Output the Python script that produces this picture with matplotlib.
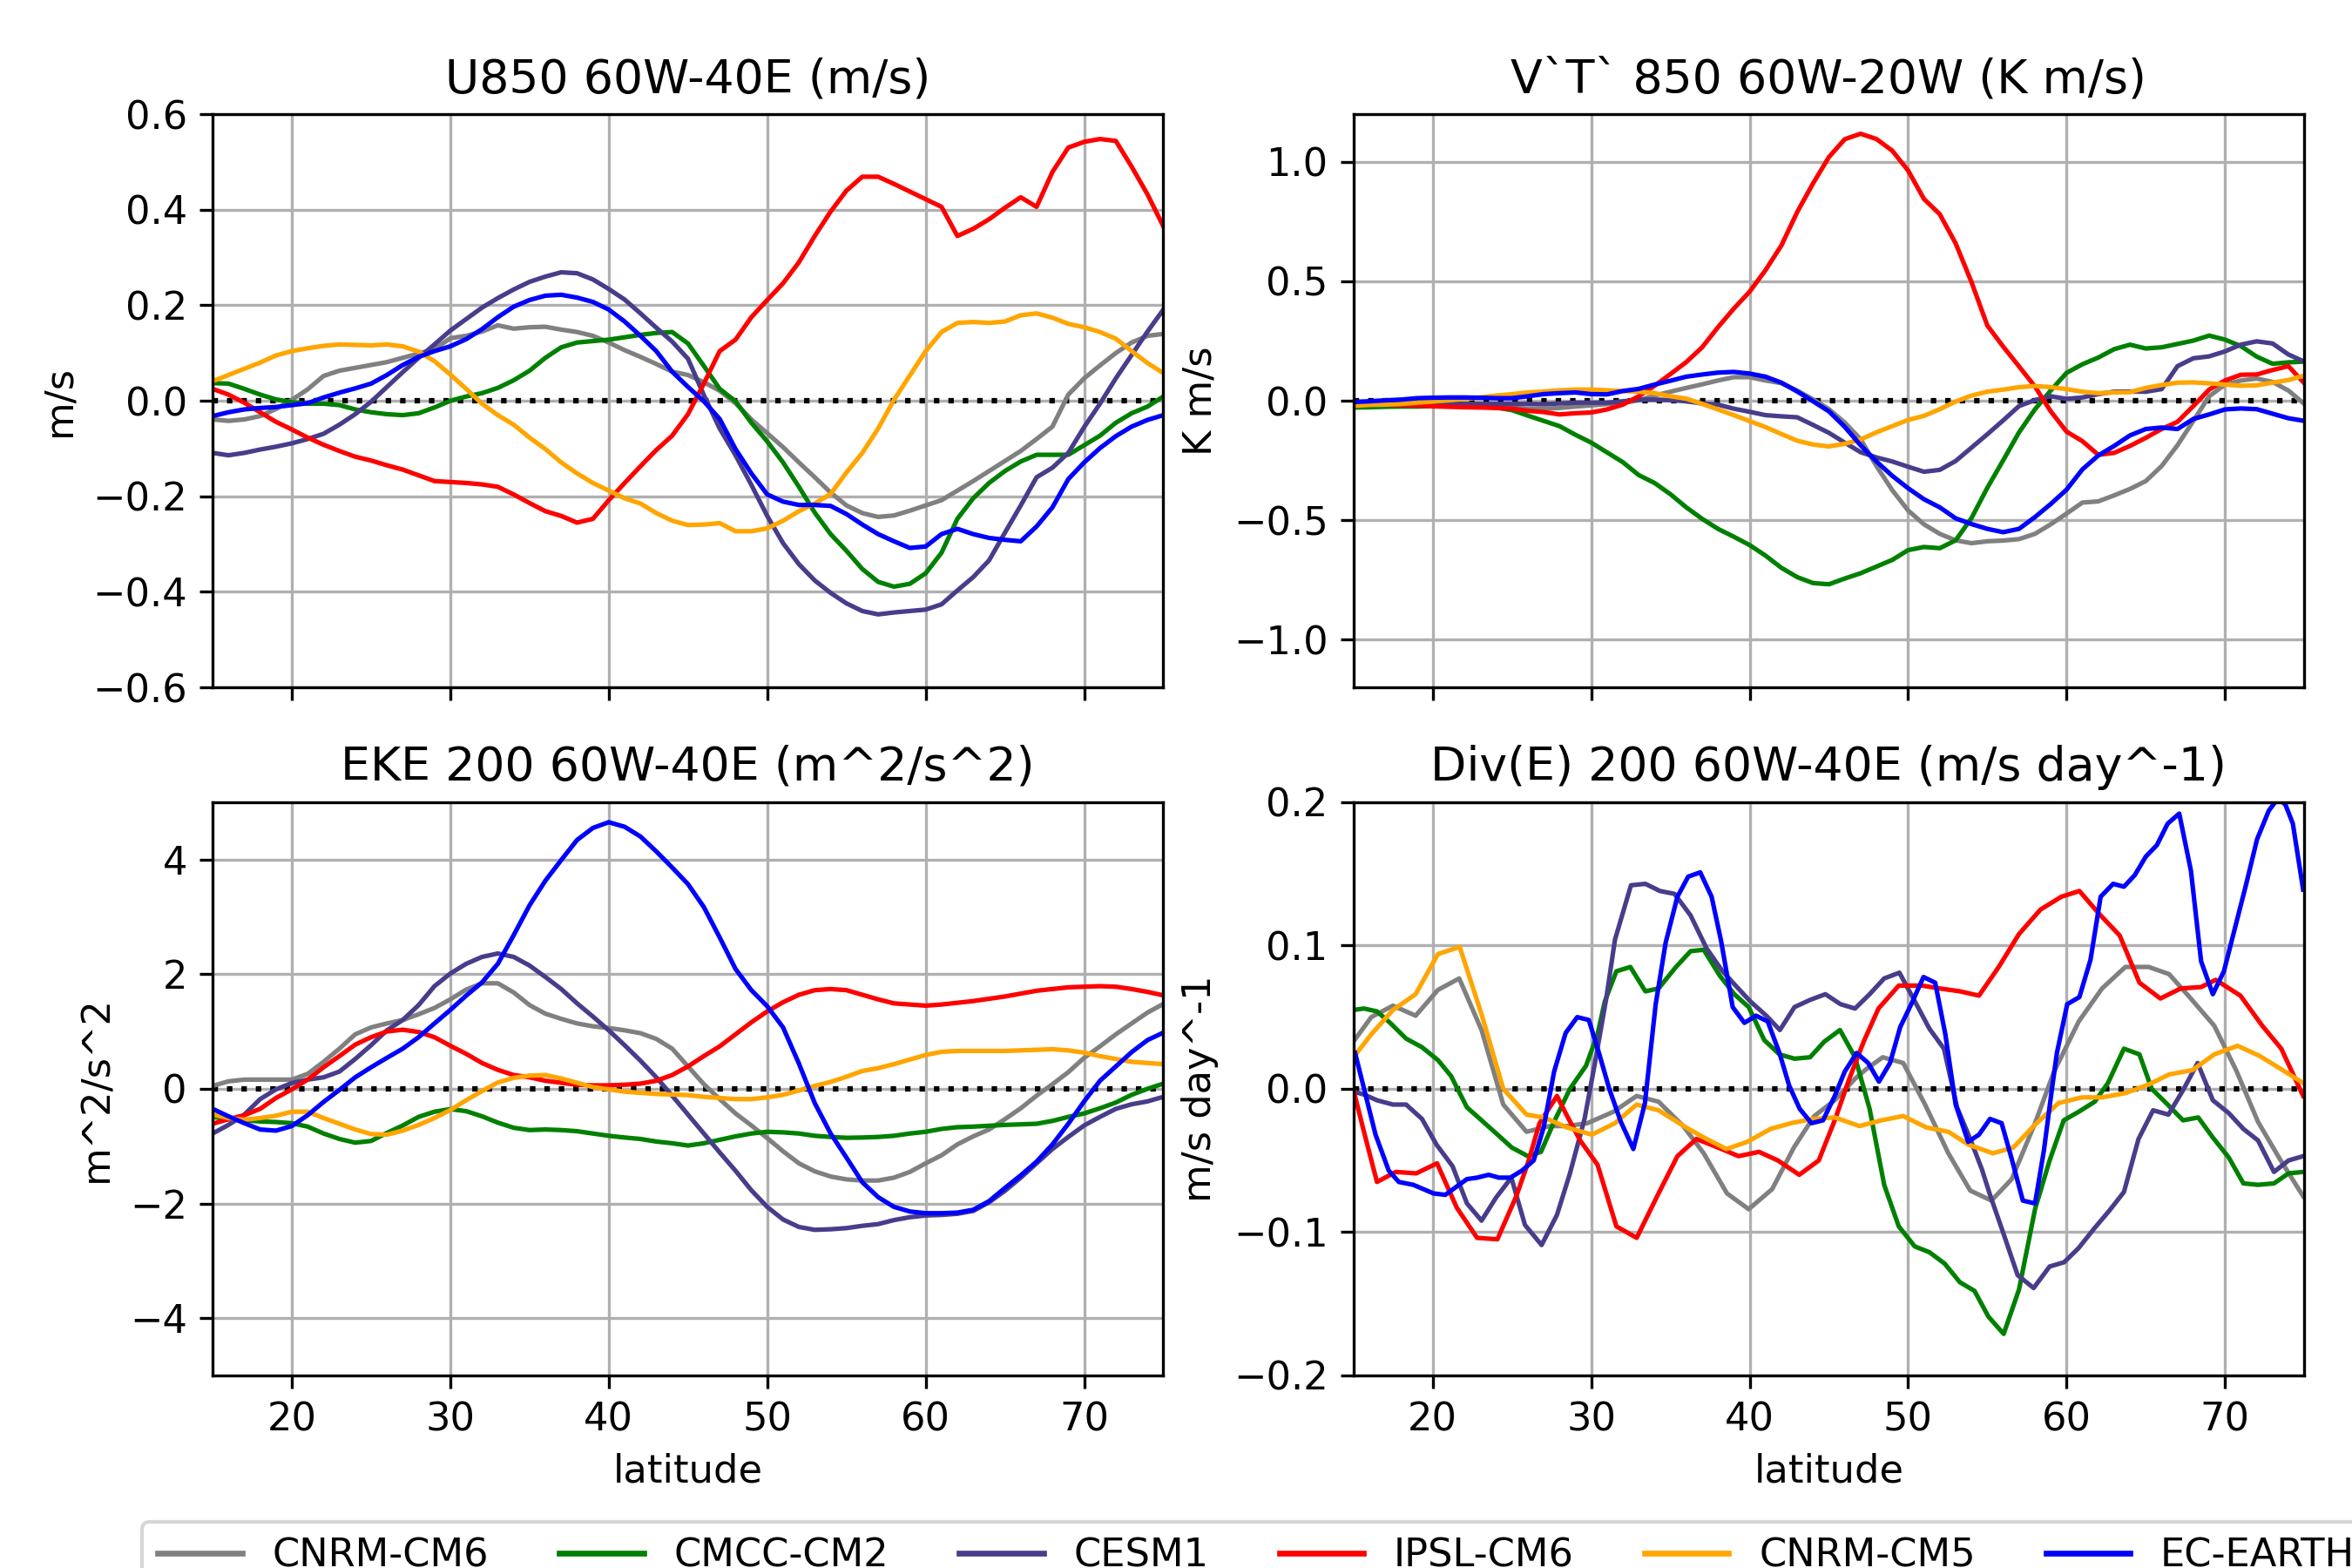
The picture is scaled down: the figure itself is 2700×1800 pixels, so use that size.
import numpy as np
import matplotlib
matplotlib.use("Agg")
import matplotlib.pyplot as plt

plt.rcParams["font.size"] = 10.75

lat = np.arange(15, 76)

models = ["CNRM-CM6", "CMCC-CM2", "CESM1", "IPSL-CM6", "CNRM-CM5", "EC-EARTH"]
colors = ["grey", "green", "darkslateblue", "red", "orange", "blue"]

# ---- U850 60W-40E (m/s), 15N..75N every degree
u850_cnrm6 = [-0.039, -0.042, -0.039, -0.032, -0.017, 0.002, 0.024, 0.052, 0.063, 0.069,
              0.075, 0.081, 0.090, 0.099, 0.108, 0.131, 0.136, 0.145, 0.158, 0.151,
              0.154, 0.155, 0.149, 0.144, 0.136, 0.122, 0.106, 0.092, 0.077, 0.061,
              0.054, 0.039, 0.021, -0.005, -0.039, -0.068, -0.097, -0.129, -0.160, -0.192,
              -0.219, -0.235, -0.243, -0.240, -0.230, -0.219, -0.208, -0.188, -0.168, -0.147,
              -0.126, -0.105, -0.080, -0.054, 0.013, 0.047, 0.074, 0.100, 0.122, 0.136,
              0.140]
u850_cmcc = [0.037, 0.036, 0.025, 0.013, 0.003, -0.003, -0.006, -0.006, -0.009, -0.018,
             -0.024, -0.028, -0.030, -0.026, -0.014, 0.000, 0.009, 0.016, 0.027, 0.043,
             0.063, 0.090, 0.112, 0.122, 0.125, 0.128, 0.133, 0.138, 0.142, 0.144,
             0.120, 0.073, 0.025, -0.001, -0.046, -0.085, -0.129, -0.180, -0.234, -0.279,
             -0.314, -0.352, -0.379, -0.389, -0.383, -0.361, -0.318, -0.247, -0.204, -0.172,
             -0.147, -0.127, -0.113, -0.113, -0.113, -0.093, -0.073, -0.046, -0.026, -0.012,
             0.009]
u850_cesm = [-0.109, -0.114, -0.109, -0.102, -0.096, -0.089, -0.080, -0.069, -0.050, -0.028,
             -0.002, 0.029, 0.060, 0.090, 0.118, 0.147, 0.171, 0.195, 0.215, 0.233,
             0.249, 0.260, 0.269, 0.267, 0.254, 0.234, 0.212, 0.183, 0.153, 0.124,
             0.088, 0.012, -0.058, -0.114, -0.176, -0.241, -0.298, -0.342, -0.376, -0.402,
             -0.424, -0.440, -0.447, -0.443, -0.440, -0.437, -0.426, -0.397, -0.369, -0.334,
             -0.276, -0.219, -0.160, -0.140, -0.109, -0.055, -0.006, 0.047, 0.096, 0.145,
             0.191]
u850_ipsl = [0.025, 0.013, -0.004, -0.024, -0.044, -0.060, -0.077, -0.092, -0.105, -0.117,
             -0.125, -0.135, -0.144, -0.156, -0.168, -0.170, -0.172, -0.175, -0.180, -0.196,
             -0.214, -0.231, -0.241, -0.255, -0.247, -0.208, -0.172, -0.137, -0.103, -0.073,
             -0.028, 0.036, 0.104, 0.128, 0.175, 0.211, 0.246, 0.290, 0.345, 0.396,
             0.440, 0.469, 0.469, 0.454, 0.438, 0.422, 0.406, 0.345, 0.360, 0.380,
             0.404, 0.426, 0.406, 0.479, 0.530, 0.542, 0.548, 0.544, 0.490, 0.432,
             0.365]
u850_cnrm5 = [0.041, 0.054, 0.067, 0.080, 0.095, 0.104, 0.110, 0.115, 0.118, 0.117,
              0.116, 0.118, 0.114, 0.103, 0.083, 0.055, 0.025, -0.006, -0.030, -0.050,
              -0.077, -0.101, -0.129, -0.152, -0.172, -0.188, -0.204, -0.215, -0.235, -0.251,
              -0.260, -0.259, -0.256, -0.273, -0.273, -0.267, -0.251, -0.231, -0.215, -0.195,
              -0.150, -0.109, -0.058, 0.002, 0.053, 0.104, 0.144, 0.163, 0.165, 0.163,
              0.166, 0.179, 0.183, 0.174, 0.161, 0.154, 0.144, 0.130, 0.104, 0.079,
              0.058]
u850_ecearth = [-0.032, -0.024, -0.018, -0.015, -0.013, -0.009, -0.005, 0.007, 0.017, 0.026,
                0.036, 0.054, 0.075, 0.092, 0.104, 0.114, 0.129, 0.150, 0.175, 0.197,
                0.211, 0.220, 0.222, 0.216, 0.207, 0.191, 0.166, 0.136, 0.104, 0.061,
                0.029, -0.001, -0.038, -0.101, -0.152, -0.196, -0.211, -0.218, -0.218, -0.220,
                -0.237, -0.259, -0.279, -0.294, -0.308, -0.305, -0.279, -0.268, -0.279, -0.287,
                -0.291, -0.294, -0.263, -0.223, -0.164, -0.129, -0.099, -0.074, -0.054, -0.040,
                -0.030]

# ---- V'T' 850 60W-20W (K m/s)
vt850_cnrm6 = [-0.020, -0.020, -0.020, -0.020, -0.020, -0.021, -0.021, -0.022, -0.024, -0.026,
               -0.030, -0.033, -0.033, -0.030, -0.024, -0.019, -0.014, -0.008, 0.002, 0.022,
               0.038, 0.054, 0.069, 0.085, 0.099, 0.099, 0.085, 0.074, 0.043, 0.006,
               -0.035, -0.091, -0.161, -0.273, -0.374, -0.459, -0.517, -0.557, -0.584, -0.596,
               -0.588, -0.585, -0.579, -0.557, -0.517, -0.472, -0.426, -0.421, -0.396, -0.369,
               -0.336, -0.273, -0.186, -0.084, 0.019, 0.068, 0.085, 0.093, 0.079, 0.043,
               -0.013]
vt850_cmcc = [-0.028, -0.027, -0.025, -0.024, -0.024, -0.022, -0.021, -0.021, -0.024, -0.028,
              -0.039, -0.062, -0.084, -0.106, -0.142, -0.175, -0.216, -0.257, -0.311, -0.344,
              -0.391, -0.446, -0.494, -0.536, -0.569, -0.604, -0.648, -0.699, -0.738, -0.763,
              -0.768, -0.744, -0.722, -0.694, -0.666, -0.625, -0.612, -0.617, -0.584, -0.491,
              -0.364, -0.249, -0.132, -0.036, 0.043, 0.117, 0.153, 0.181, 0.216, 0.235,
              0.219, 0.224, 0.238, 0.252, 0.273, 0.256, 0.229, 0.185, 0.155, 0.161,
              0.164]
vt850_cesm = [-0.013, -0.013, -0.013, -0.013, -0.013, -0.013, -0.013, -0.013, -0.013, -0.013,
              -0.013, -0.013, -0.014, -0.011, -0.008, -0.008, -0.008, -0.002, 0.005, 0.005,
              0.003, -0.002, -0.011, -0.016, -0.033, -0.046, -0.060, -0.065, -0.069, -0.101,
              -0.134, -0.175, -0.215, -0.237, -0.254, -0.276, -0.297, -0.289, -0.252, -0.196,
              -0.140, -0.082, -0.022, 0.003, 0.019, 0.008, 0.014, 0.028, 0.038, 0.039,
              0.038, 0.049, 0.145, 0.178, 0.186, 0.207, 0.235, 0.249, 0.240, 0.194,
              0.164]
vt850_ipsl = [-0.013, -0.014, -0.016, -0.018, -0.020, -0.023, -0.025, -0.027, -0.028, -0.030,
              -0.033, -0.042, -0.047, -0.057, -0.052, -0.049, -0.036, -0.016, 0.019, 0.063,
              0.112, 0.162, 0.224, 0.308, 0.386, 0.457, 0.547, 0.650, 0.790, 0.910,
              1.020, 1.095, 1.118, 1.096, 1.047, 0.964, 0.845, 0.781, 0.659, 0.497,
              0.315, 0.227, 0.144, 0.060, -0.044, -0.129, -0.169, -0.226, -0.218, -0.189,
              -0.155, -0.118, -0.088, -0.022, 0.047, 0.085, 0.109, 0.110, 0.129, 0.145,
              0.074]
vt850_cnrm5 = [-0.021, -0.017, -0.016, -0.013, -0.008, -0.003, 0.002, 0.008, 0.014, 0.022,
               0.028, 0.035, 0.039, 0.044, 0.047, 0.047, 0.044, 0.041, 0.038, 0.032,
               0.019, 0.009, -0.013, -0.036, -0.060, -0.085, -0.110, -0.139, -0.167, -0.183,
               -0.191, -0.180, -0.162, -0.132, -0.106, -0.080, -0.063, -0.035, -0.003, 0.022,
               0.038, 0.047, 0.057, 0.062, 0.057, 0.049, 0.038, 0.032, 0.035, 0.036,
               0.054, 0.066, 0.076, 0.077, 0.073, 0.068, 0.063, 0.065, 0.076, 0.087,
               0.106]
vt850_ecearth = [-0.005, -0.002, 0.002, 0.005, 0.011, 0.013, 0.014, 0.014, 0.013, 0.011,
                 0.011, 0.019, 0.028, 0.032, 0.035, 0.028, 0.027, 0.041, 0.050, 0.068,
                 0.084, 0.101, 0.110, 0.118, 0.121, 0.114, 0.101, 0.076, 0.039, -0.002,
                 -0.044, -0.109, -0.186, -0.254, -0.314, -0.366, -0.412, -0.446, -0.492, -0.516,
                 -0.536, -0.550, -0.536, -0.487, -0.432, -0.372, -0.287, -0.229, -0.189, -0.145,
                 -0.118, -0.112, -0.118, -0.076, -0.057, -0.036, -0.032, -0.035, -0.054, -0.073,
                 -0.084]

# ---- EKE 200 60W-40E (m^2/s^2)
eke200_cnrm6 = [0.05, 0.13, 0.16, 0.16, 0.16, 0.16, 0.26, 0.47, 0.70, 0.95,
                1.07, 1.14, 1.20, 1.30, 1.41, 1.56, 1.73, 1.84, 1.84, 1.68,
                1.46, 1.31, 1.22, 1.14, 1.09, 1.06, 1.02, 0.97, 0.87, 0.70,
                0.39, 0.08, -0.18, -0.43, -0.64, -0.86, -1.09, -1.30, -1.44, -1.53,
                -1.58, -1.60, -1.60, -1.55, -1.45, -1.30, -1.16, -0.97, -0.83, -0.71,
                -0.53, -0.34, -0.12, 0.08, 0.29, 0.54, 0.74, 0.95, 1.14, 1.33,
                1.48]
eke200_cmcc = [-0.49, -0.53, -0.55, -0.57, -0.58, -0.60, -0.66, -0.78, -0.875, -0.94,
               -0.91, -0.77, -0.64, -0.49, -0.40, -0.355, -0.39, -0.48, -0.59, -0.68,
               -0.72, -0.71, -0.72, -0.74, -0.78, -0.82, -0.85, -0.875, -0.92, -0.95,
               -0.99, -0.95, -0.89, -0.83, -0.78, -0.75, -0.76, -0.78, -0.82, -0.84,
               -0.855, -0.85, -0.84, -0.82, -0.78, -0.75, -0.70, -0.67, -0.66, -0.645,
               -0.63, -0.62, -0.61, -0.56, -0.49, -0.43, -0.34, -0.24, -0.105, 0.0,
               0.09]
eke200_cesm = [-0.78, -0.63, -0.45, -0.18, -0.01, 0.10, 0.16, 0.20, 0.30, 0.52,
               0.76, 1.02, 1.20, 1.46, 1.79, 2.01, 2.18, 2.30, 2.36, 2.30,
               2.15, 1.95, 1.74, 1.49, 1.26, 1.02, 0.76, 0.49, 0.20, -0.12,
               -0.45, -0.78, -1.11, -1.43, -1.77, -2.06, -2.28, -2.41, -2.46, -2.45,
               -2.43, -2.39, -2.36, -2.29, -2.24, -2.21, -2.20, -2.18, -2.13, -1.98,
               -1.78, -1.55, -1.30, -1.05, -0.84, -0.64, -0.49, -0.35, -0.27, -0.22,
               -0.14]
eke200_ipsl = [-0.61, -0.53, -0.46, -0.35, -0.16, -0.01, 0.16, 0.375, 0.57, 0.77,
               0.90, 1.00, 1.03, 0.99, 0.90, 0.75, 0.61, 0.45, 0.33, 0.24,
               0.20, 0.14, 0.105, 0.07, 0.06, 0.06, 0.07, 0.09, 0.14, 0.24,
               0.39, 0.57, 0.74, 0.95, 1.16, 1.35, 1.51, 1.64, 1.72, 1.74,
               1.72, 1.64, 1.56, 1.49, 1.47, 1.45, 1.47, 1.50, 1.53, 1.57,
               1.61, 1.66, 1.71, 1.74, 1.77, 1.78, 1.79, 1.78, 1.74, 1.69,
               1.63]
eke200_cnrm5 = [-0.45, -0.51, -0.54, -0.51, -0.47, -0.40, -0.40, -0.51, -0.61, -0.71,
                -0.79, -0.80, -0.73, -0.63, -0.51, -0.37, -0.20, -0.04, 0.11, 0.19,
                0.23, 0.24, 0.18, 0.105, 0.03, -0.01, -0.05, -0.07, -0.09, -0.10,
                -0.11, -0.14, -0.16, -0.18, -0.18, -0.15, -0.105, -0.03, 0.05, 0.12,
                0.21, 0.31, 0.36, 0.43, 0.51, 0.59, 0.645, 0.66, 0.66, 0.66,
                0.66, 0.67, 0.68, 0.69, 0.67, 0.63, 0.57, 0.52, 0.47, 0.45,
                0.43]
eke200_ecearth = [-0.35, -0.48, -0.60, -0.71, -0.73, -0.65, -0.46, -0.23, -0.02, 0.20,
                  0.375, 0.54, 0.70, 0.90, 1.14, 1.375, 1.625, 1.855, 2.18, 2.68,
                  3.20, 3.63, 3.99, 4.34, 4.55, 4.65, 4.57, 4.40, 4.14, 3.86,
                  3.57, 3.17, 2.64, 2.09, 1.72, 1.44, 1.07, 0.44, -0.25, -0.78,
                  -1.20, -1.63, -1.89, -2.06, -2.14, -2.17, -2.17, -2.16, -2.11, -1.96,
                  -1.73, -1.51, -1.27, -0.97, -0.61, -0.22, 0.14, 0.39, 0.64, 0.85,
                  0.98]

# ---- Div(E) 200 60W-40E (m/s day^-1), finer grid -> (lat, value) pairs
dive_cnrm6 = [(15.0, 0.033), (16.12, 0.050), (17.49, 0.058), (18.92, 0.051), (20.33, 0.069),
              (21.67, 0.077), (23.08, 0.041), (24.45, -0.011), (25.92, -0.030), (27.38, -0.026),
              (28.48, -0.026), (29.76, -0.024), (31.41, -0.016), (32.87, -0.005), (34.25, -0.009),
              (35.81, -0.026), (37.1, -0.045), (38.57, -0.073), (39.94, -0.084), (41.42, -0.070),
              (42.79, -0.041), (44.08, -0.019), (45.37, -0.008), (46.65, 0.007), (47.39, 0.014),
              (48.4, 0.022), (49.69, 0.018), (51.07, -0.011), (52.54, -0.045), (53.92, -0.071),
              (55.26, -0.078), (56.54, -0.063), (58.01, -0.024), (59.21, 0.012), (60.77, 0.047),
              (62.24, 0.070), (63.71, 0.085), (65.18, 0.085), (66.47, 0.080), (67.76, 0.064),
              (69.32, 0.044), (70.7, 0.013), (72.08, -0.023), (73.46, -0.049), (74.93, -0.075)]
dive_cmcc = [(15.0, 0.055), (15.66, 0.056), (16.48, 0.054), (17.31, 0.046), (18.32, 0.035),
             (19.32, 0.029), (20.33, 0.020), (21.15, 0.009), (22.16, -0.013), (22.98, -0.021),
             (23.99, -0.031), (24.99, -0.041), (26.0, -0.047), (26.83, -0.044), (27.66, -0.023),
             (28.66, 0.000), (29.67, 0.016), (30.4, 0.038), (30.86, 0.061), (31.59, 0.082),
             (32.47, 0.085), (33.42, 0.068), (34.25, 0.070), (35.35, 0.085), (36.27, 0.096),
             (37.1, 0.097), (38.11, 0.079), (39.03, 0.066), (39.94, 0.057), (40.92, 0.034),
             (41.88, 0.024), (42.83, 0.021), (43.81, 0.022), (44.72, 0.033), (45.7, 0.041),
             (46.65, 0.022), (47.57, -0.014), (48.49, -0.067), (49.41, -0.096), (50.42, -0.110),
             (51.34, -0.114), (52.31, -0.122), (53.27, -0.135), (54.19, -0.141), (55.07, -0.159),
             (56.03, -0.171), (57.0, -0.140), (58.01, -0.084), (58.93, -0.050), (59.82, -0.022),
             (60.77, -0.016), (61.78, -0.009), (62.61, 0.004), (63.62, 0.028), (64.6, 0.024),
             (65.37, 0.000), (66.38, -0.011), (67.35, -0.022), (68.31, -0.020), (69.23, -0.034),
             (70.24, -0.048), (71.16, -0.066), (72.08, -0.067), (73.09, -0.066), (74.01, -0.059),
             (74.93, -0.058)]
dive_cesm = [(15.0, -0.002), (15.66, -0.004), (16.48, -0.008), (17.49, -0.011), (18.32, -0.011),
             (19.32, -0.021), (20.24, -0.039), (21.25, -0.054), (22.16, -0.080), (23.08, -0.092),
             (23.99, -0.076), (24.96, -0.062), (25.82, -0.095), (26.87, -0.109), (27.84, -0.088),
             (28.66, -0.059), (29.58, -0.021), (30.22, 0.017), (30.95, 0.063), (31.5, 0.104),
             (32.51, 0.142), (33.42, 0.143), (34.34, 0.138), (35.26, 0.136), (36.27, 0.121),
             (37.28, 0.098), (38.29, 0.082), (39.03, 0.073), (40.04, 0.061), (41.05, 0.051),
             (41.91, 0.041), (42.83, 0.057), (43.81, 0.062), (44.78, 0.066), (45.74, 0.059),
             (46.65, 0.056), (47.57, 0.066), (48.49, 0.077), (49.45, 0.081), (50.33, 0.063),
             (51.34, 0.042), (52.26, 0.028), (53.09, -0.013), (53.92, -0.035), (54.65, -0.056),
             (55.17, -0.074), (56.08, -0.103), (56.91, -0.130), (57.92, -0.139), (58.93, -0.124),
             (59.85, -0.121), (60.77, -0.111), (61.78, -0.097), (62.7, -0.085), (63.62, -0.072),
             (64.54, -0.035), (65.46, -0.015), (66.43, -0.018), (67.35, -0.001), (68.27, 0.018),
             (69.23, -0.008), (70.24, -0.017), (71.16, -0.028), (72.08, -0.036), (73.09, -0.058),
             (74.01, -0.050), (74.93, -0.047)]
dive_ipsl = [(15.0, -0.001), (15.66, -0.030), (16.48, -0.065), (17.67, -0.058), (18.96, -0.059),
             (20.27, -0.052), (21.52, -0.083), (22.8, -0.104), (24.08, -0.105), (25.27, -0.075),
             (26.0, -0.052), (26.74, -0.024), (27.84, -0.005), (28.48, -0.019), (29.3, -0.036),
             (30.4, -0.053), (31.59, -0.096), (32.87, -0.104), (34.16, -0.075), (35.44, -0.047),
             (36.64, -0.035), (38.01, -0.041), (39.3, -0.047), (40.59, -0.044), (41.78, -0.050),
             (43.13, -0.060), (44.36, -0.050), (45.37, -0.022), (46.29, 0.007), (47.2, 0.033),
             (48.13, 0.056), (49.41, 0.072), (50.88, 0.072), (51.99, 0.070), (53.27, 0.068),
             (54.47, 0.065), (55.72, 0.085), (57.0, 0.108), (58.35, 0.125), (59.67, 0.134),
             (60.81, 0.138), (62.06, 0.122), (63.35, 0.107), (64.6, 0.074), (65.92, 0.063),
             (67.21, 0.070), (68.49, 0.071), (69.41, 0.076), (70.97, 0.065), (72.35, 0.044),
             (73.55, 0.028), (74.93, -0.005)]
dive_cnrm5 = [(15.0, 0.022), (16.12, 0.038), (17.49, 0.055), (18.92, 0.066), (20.33, 0.094),
              (21.7, 0.099), (23.08, 0.052), (24.45, 0.000), (25.92, -0.018), (27.01, -0.020),
              (28.48, -0.027), (30.04, -0.032), (31.5, -0.024), (32.87, -0.011), (34.25, -0.015),
              (35.99, -0.027), (37.28, -0.035), (38.53, -0.042), (39.85, -0.037), (41.32, -0.028),
              (42.61, -0.024), (43.99, -0.021), (45.37, -0.020), (46.93, -0.026), (48.31, -0.022),
              (49.69, -0.019), (51.16, -0.027), (52.54, -0.030), (53.82, -0.039), (55.35, -0.045),
              (56.64, -0.041), (57.92, -0.026), (59.49, -0.010), (60.96, -0.006), (62.24, -0.006),
              (63.71, -0.003), (65.18, 0.003), (66.47, 0.010), (67.94, 0.013), (69.32, 0.024),
              (70.79, 0.030), (72.17, 0.023), (73.64, 0.013), (74.93, 0.004)]
dive_ecearth = [(15.1, 0.025), (16.39, -0.032), (17.22, -0.057), (17.86, -0.065), (18.77, -0.067),
                (20.05, -0.073), (20.79, -0.074), (22.16, -0.063), (22.8, -0.062), (23.53, -0.060),
                (24.18, -0.062), (24.9, -0.062), (25.64, -0.057), (26.37, -0.050), (27.0, -0.027),
                (27.66, 0.012), (28.39, 0.039), (29.12, 0.050), (29.85, 0.048), (30.49, 0.025),
                (31.14, 0.000), (31.87, -0.023), (32.66, -0.042), (33.39, -0.010), (34.07, 0.059),
                (34.7, 0.102), (35.44, 0.134), (36.12, 0.148), (36.88, 0.151), (37.6, 0.134),
                (38.2, 0.103), (38.93, 0.057), (39.67, 0.046), (40.4, 0.051), (41.14, 0.047),
                (41.88, 0.025), (42.5, 0.002), (43.16, -0.014), (43.9, -0.024), (44.63, -0.022),
                (45.37, -0.005), (46.0, 0.012), (46.75, 0.025), (47.48, 0.018), (48.16, 0.005),
                (48.86, 0.018), (49.5, 0.043), (50.24, 0.060), (50.97, 0.078), (51.71, 0.074),
                (52.35, 0.038), (53.0, -0.011), (53.79, -0.037), (54.47, -0.032), (55.17, -0.021),
                (55.9, -0.024), (56.54, -0.049), (57.24, -0.078), (58.01, -0.080), (58.57, -0.043),
                (59.03, -0.004), (59.39, 0.025), (60.04, 0.059), (60.81, 0.064), (61.51, 0.090),
                (62.15, 0.134), (62.94, 0.143), (63.62, 0.141), (64.3, 0.149), (65.0, 0.162),
                (65.7, 0.170), (66.38, 0.185), (67.11, 0.192), (67.85, 0.152), (68.49, 0.089),
                (69.23, 0.066), (69.93, 0.082), (70.6, 0.111), (71.34, 0.143), (72.02, 0.174),
                (72.76, 0.194), (73.36, 0.203), (73.82, 0.198), (74.28, 0.185), (74.93, 0.139)]


def plot_panel(ax, series, title, ylabel, ylim, yticks):
    ax.grid(True)
    # black dotted zero line, above the grey grid line but under the curves
    ax.axhline(0, color="black", linestyle=":", linewidth=1.5, zorder=1.9)
    lines = []
    for (x, y), name, c in zip(series, models, colors):
        ln, = ax.plot(x, y, color=c, linewidth=1.25, label=name)
        lines.append(ln)
    ax.set_title(title)
    ax.set_ylabel(ylabel)
    ax.set_xlim(15, 75)
    ax.set_ylim(*ylim)
    ax.set_yticks(yticks)
    ax.set_xticks([20, 30, 40, 50, 60, 70])
    return lines


fig, axes = plt.subplots(2, 2, sharex=True, figsize=(9, 6), dpi=300)
fig.subplots_adjust(left=0.0904, right=0.9797, top=0.9272, bottom=0.1228,
                    wspace=0.2, hspace=0.2)

u_series = [(lat, s) for s in [u850_cnrm6, u850_cmcc, u850_cesm, u850_ipsl, u850_cnrm5, u850_ecearth]]
vt_series = [(lat, s) for s in [vt850_cnrm6, vt850_cmcc, vt850_cesm, vt850_ipsl, vt850_cnrm5, vt850_ecearth]]
eke_series = [(lat, s) for s in [eke200_cnrm6, eke200_cmcc, eke200_cesm, eke200_ipsl, eke200_cnrm5, eke200_ecearth]]
div_series = [tuple(np.array(p).T) for p in [dive_cnrm6, dive_cmcc, dive_cesm, dive_ipsl, dive_cnrm5, dive_ecearth]]

handles = plot_panel(axes[0, 0], u_series, "U850 60W-40E (m/s)", "m/s",
                     (-0.6, 0.6), np.arange(-0.6, 0.61, 0.2))
plot_panel(axes[0, 1], vt_series, "V`T` 850 60W-20W (K m/s)", "K m/s",
           (-1.2, 1.2), [-1.0, -0.5, 0.0, 0.5, 1.0])
plot_panel(axes[1, 0], eke_series, "EKE 200 60W-40E (m^2/s^2)", "m^2/s^2",
           (-5, 5), [-4, -2, 0, 2, 4])
plot_panel(axes[1, 1], div_series, "Div(E) 200 60W-40E (m/s day^-1)", "m/s day^-1",
           (-0.2, 0.2), [-0.2, -0.1, 0.0, 0.1, 0.2])

axes[1, 0].set_xlabel("latitude")
axes[1, 1].set_xlabel("latitude")

leg = fig.legend(handles, models, loc="upper left", bbox_to_anchor=(0.0605, 0.0294),
                 ncol=6, borderaxespad=0, handlelength=2.15, handletextpad=0.78,
                 columnspacing=1.81)
for h in leg.get_lines():
    h.set_linewidth(1.6)

fig.savefig("out.png", dpi=300)
